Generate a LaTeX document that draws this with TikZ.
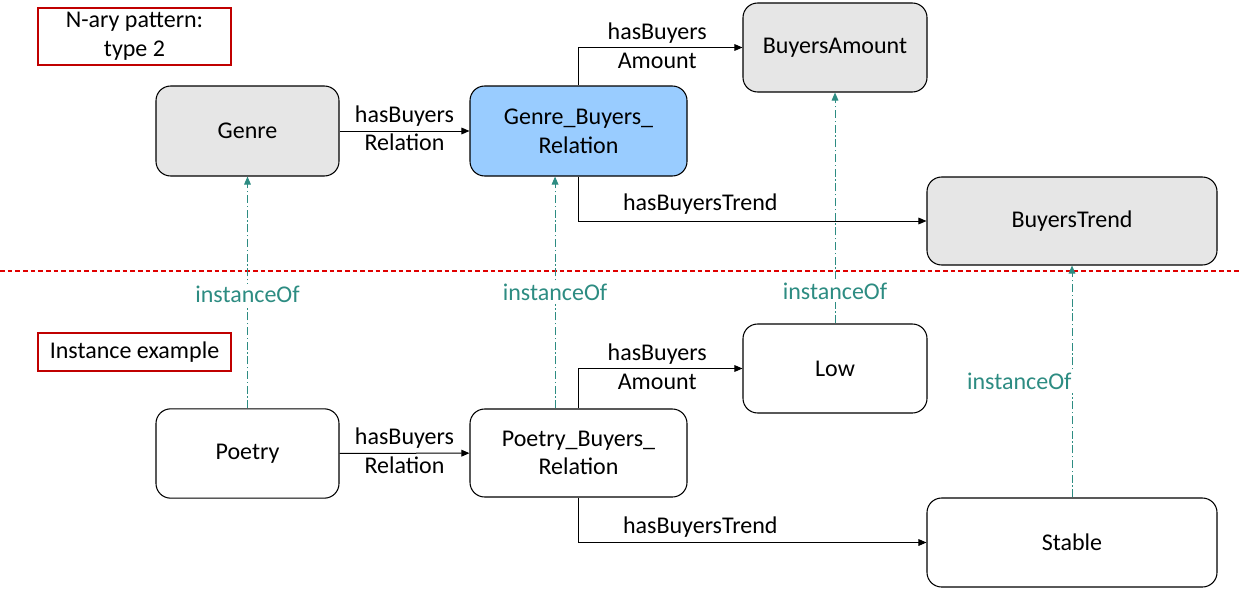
\documentclass[tikz,border=0pt]{standalone}
\usepackage{fontspec}
\setmainfont{Carlito}
\usetikzlibrary{arrows.meta}
\definecolor{classgray}{HTML}{E6E6E6}
\definecolor{relblue}{HTML}{99CCFF}
\definecolor{insteal}{RGB}{45,140,130}
\definecolor{notered}{HTML}{C00000}
\definecolor{seprred}{HTML}{E00000}

\begin{document}
\begin{tikzpicture}[x=0.75pt, y=-0.75pt,
            font=\fontsize{18}{21.5}\selectfont,
            box/.style={draw, line width=0.8pt, rounded corners=11pt, align=center, inner sep=2pt},
            classbox/.style={box, fill=classgray},
            relbox/.style={box, fill=relblue},
            indbox/.style={box, fill=white},
            note/.style={draw=notered, line width=0.8pt, align=center, inner sep=2pt},
            prop/.style={line width=0.75pt, -{Triangle[length=6pt,width=5pt]}},
            inst/.style={insteal, line width=0.75pt, dash pattern=on 6pt off 2pt on 1pt off 2pt,
                -{Triangle[length=6pt,width=5pt]}},
            instlabel/.style={text=insteal, fill=white, inner sep=2pt}]
        \useasboundingbox (0,0) rectangle (1241,592);

        % separator
        \coordinate (sepL) at (0,271);
        \coordinate (sepR) at (1241,271);
        \draw[seprred, line width=1pt, dash pattern=on 3.5pt off 2.25pt] (sepL) -- (sepR);

        % notes
        \node[note, minimum width=144.75pt, minimum height=42.75pt] (nary) at (134.5,36.5) {N-ary pattern:\\type 2};
        \node[note, minimum width=144.75pt, minimum height=28.5pt] (instex) at (134.5,352) {Instance example};

        % classes
        \node[classbox, minimum width=137.25pt, minimum height=67.5pt] (genre) at (247.5,131) {Genre};
        \node[relbox, minimum width=162.75pt, minimum height=67.5pt] (gbr) at (578.5,131) {Genre\_Buyers\_\\Relation};
        \node[classbox, minimum width=138pt, minimum height=66.75pt] (amount) at (835,47.5) {BuyersAmount};
        \node[classbox, minimum width=217.5pt, minimum height=66pt] (trend) at (1072,221) {BuyersTrend};

        % instances
        \node[indbox, minimum width=137.25pt, minimum height=67pt] (poetry) at (247.5,453.5) {Poetry};
        \node[indbox, minimum width=162.75pt, minimum height=66pt] (pbr) at (578.5,453) {Poetry\_Buyers\_\\Relation};
        \node[indbox, minimum width=138pt, minimum height=66.75pt] (low) at (835,368.5) {Low};
        \node[indbox, minimum width=217.5pt, minimum height=66.75pt] (stable) at (1072,542.5) {Stable};

        % properties
        \draw[prop] (genre) -- node[align=center, yshift=2pt] {hasBuyers\\Relation} (gbr);
        \draw[prop] (gbr.north) |- node[pos=0.74, align=center, yshift=1.5pt] {hasBuyers\\Amount} (amount.west);
        \draw[prop] (gbr.south) |- node[pos=0.675, above, yshift=1pt] {hasBuyersTrend} (trend.west);
        \draw[prop] (poetry) -- node[align=center, yshift=2pt] {hasBuyers\\Relation} (pbr);
        \draw[prop] (pbr.north) |- node[pos=0.74, align=center, yshift=1.5pt] {hasBuyers\\Amount} (low.west);
        \draw[prop] (pbr.south) |- node[pos=0.675, above] {hasBuyersTrend} (stable.west);

        % instanceOf
        \draw[inst] (poetry.north) -- node[pos=0.49, instlabel] {instanceOf} (genre.south);
        \draw[inst] ([xshift=-17.6pt]pbr.north) -- node[pos=0.5, instlabel] {instanceOf} ([xshift=-17.6pt]gbr.south);
        \draw[inst] (low.north) -- node[pos=0.14, instlabel] {instanceOf} (amount.south);
        \draw[inst] (stable.north) -- node[pos=0.5, instlabel, anchor=east, xshift=2pt] {instanceOf} (trend.south);
\end{tikzpicture}
\end{document}
